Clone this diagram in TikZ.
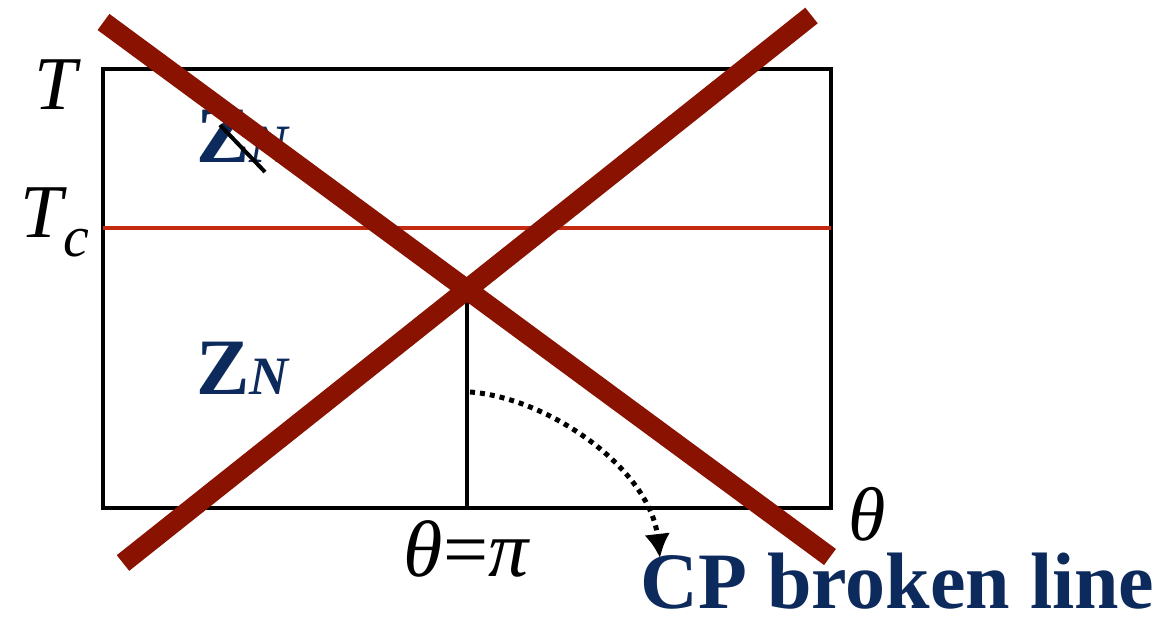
\documentclass[tikz,border=0pt]{standalone}
\usepackage{fontspec}
\setmainfont{Liberation Serif}
\usepackage{tikz}
\usetikzlibrary{arrows.meta}
\definecolor{PDNavy}{HTML}{0D2A5C}
\definecolor{PDRed}{HTML}{C42A10}
\definecolor{PDCross}{HTML}{8A1200}

\begin{document}
\begin{tikzpicture}[
  x=0.5pt,
  y=-0.5pt,
  frame/.style={draw=black, line width=2pt},
  critical/.style={draw=PDRed, line width=2pt},
  axislabel/.style={
    inner sep=0pt,
    font=\itshape\fontsize{38}{40}\selectfont
  },
  phase/.style={
    inner sep=0pt,
    anchor=base west,
    text=PDNavy
  },
  crossbar/.style={draw=PDCross, line width=10pt},
  flow/.style={
    draw=black,
    line width=2.5pt,
    dash pattern=on 2.5pt off 2.5pt,
    -{Latex[length=12pt,width=13pt]}
  },
]
\useasboundingbox (0,0) rectangle (1173,619);

% phase diagram frame
\coordinate (box-sw) at (103,508);
\coordinate (box-ne) at (831,69);
\draw[frame] (box-sw) rectangle (box-ne);

\coordinate (tc-w) at (103,228);
\coordinate (tc-e) at (831,228);
\draw[critical] (tc-w) -- (tc-e);

\coordinate (pi-top) at (467,290);
\coordinate (pi-bot) at (467,508);
\draw[frame] (pi-top) -- (pi-bot);

\node[axislabel] (temp) at (56,85) {T};
\node[axislabel] (temp-c) at (55,222) {T\raisebox{-0.25em}{\fontsize{29}{30}\selectfont c}};
\node[axislabel] (theta) at (867,514) {θ};
\node[axislabel, font=\itshape\fontsize{40}{42}\selectfont] (theta-pi) at (466,549) {θ\textup{=}π};

\node[phase] (zn-high) at (196,163) {\fontsize{40}{42}\selectfont\bfseries Z\fontsize{27}{28}\selectfont\itshape N};
\node[phase] (zn-low) at (196,395) {\fontsize{40}{42}\selectfont\bfseries Z\fontsize{27}{28}\selectfont\itshape N};

% dotted flow to the label
\coordinate (flow-start) at (470,392);
\coordinate (flow-end) at (660,558);
\draw[flow] (flow-start) .. controls (550,398) and (650,470) .. (flow-end);

% the big cross
\coordinate (cross-a1) at (103.5,22);
\coordinate (cross-a2) at (830,557);
\coordinate (cross-b1) at (123,563);
\coordinate (cross-b2) at (811.5,15.5);
\draw[crossbar] (cross-a1) -- (cross-a2);
\draw[crossbar] (cross-b1) -- (cross-b2);

\coordinate (slash-a) at (220,125);
\coordinate (slash-b) at (265,172);
\draw[line width=2pt] (slash-a) -- (slash-b);

\node[phase, font=\bfseries\fontsize{40}{44}\selectfont] (cp-label) at (640,609) {CP broken line};
\end{tikzpicture}
\end{document}
